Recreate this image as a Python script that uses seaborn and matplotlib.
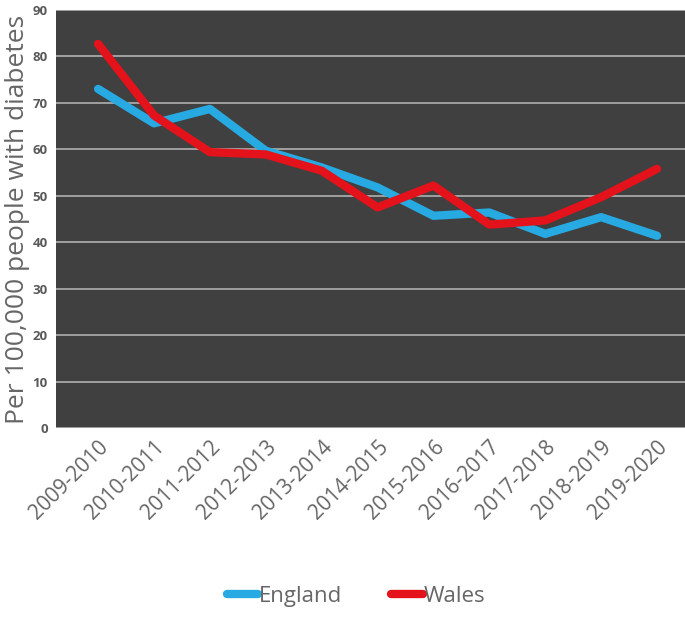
# Diabetes rate per 100,000, England vs Wales

import matplotlib
matplotlib.use('Agg')
import matplotlib.pyplot as plt
import pandas as pd
import seaborn as sns

years = ['2009-2010', '2010-2011', '2011-2012', '2012-2013', '2013-2014',
         '2014-2015', '2015-2016', '2016-2017', '2017-2018', '2018-2019',
         '2019-2020']
england = [73.0, 65.6, 68.7, 59.7, 56.1, 51.8, 45.7, 46.4, 41.8, 45.4, 41.4]
wales = [82.7, 67.3, 59.4, 58.9, 55.4, 47.5, 52.2, 43.8, 44.7, 49.7, 55.8]

df = pd.DataFrame({
    'year': years * 2,
    'value': england + wales,
    'country': ['England'] * len(years) + ['Wales'] * len(years),
})
df['pos'] = df['year'].map({y: i for i, y in enumerate(years)})

sns.set_style('white')
plt.rcParams['font.family'] = ['Open Sans', 'DejaVu Sans']

fig = plt.figure(figsize=(6.85, 6.24), dpi=100)
ax = fig.add_axes([0.082, 0.314, 0.918, 0.67])
ax.set_facecolor('#404040')

sns.lineplot(data=df, x='pos', y='value', hue='country',
             palette={'England': '#27a9e1', 'Wales': '#e3121b'},
             linewidth=6, ax=ax, legend=False)

ax.set_ylim(0, 90)
ax.set_yticks(range(0, 91, 10))
ax.set_xlim(-0.75, 10.5)
ax.set_xticks(range(len(years)))
ax.set_xticklabels(years, rotation=45, ha='right', rotation_mode='anchor',
                   fontsize=15, color='#666666')
ax.tick_params(axis='x', length=0, pad=6)
ax.tick_params(axis='y', length=0, pad=6, labelsize=9.5, labelcolor='#595959')
for lab in ax.get_yticklabels():
    lab.set_fontweight('bold')
ax.yaxis.grid(True, color='#b0b0b0', linewidth=1.2)
ax.set_axisbelow(True)
for s in ax.spines.values():
    s.set_visible(False)

ax.set_xlabel('')
ax.set_ylabel('Per 100,000 people with diabetes', fontsize=19,
              color='#666666', labelpad=2)

# legend at the bottom
handles = [plt.Line2D([], [], color='#27a9e1', linewidth=6, solid_capstyle='round'),
           plt.Line2D([], [], color='#e3121b', linewidth=6, solid_capstyle='round')]
fig.legend(handles, ['England', 'Wales'], loc='lower center',
           bbox_to_anchor=(0.52, -0.005), ncol=2, frameon=False,
           fontsize=16, labelcolor='#666666', handlelength=1.4,
           handletextpad=0.05, columnspacing=2.2)

fig.savefig('out.png', dpi=100)
